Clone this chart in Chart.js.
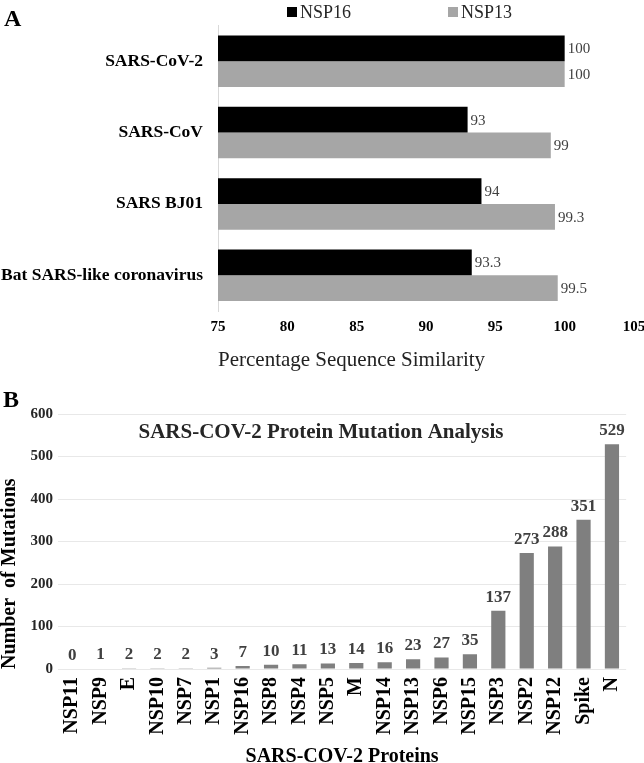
<!DOCTYPE html>
<html><head><meta charset="utf-8">
<script src="https://cdn.jsdelivr.net/npm/chart.js@4.4.1/dist/chart.umd.min.js"></script>
<style>
html,body{margin:0;padding:0;background:#fff;overflow:hidden;width:644px;height:763px;}
#a{position:absolute;left:0;top:0;}
#b{position:absolute;left:0;top:372px;}
</style></head><body>
<canvas id="a" width="644" height="375"></canvas>
<canvas id="b" width="644" height="398"></canvas>
<script>
// ---- Panel A data ----
const speciesLabels = ['SARS-CoV-2', 'SARS-CoV', 'SARS BJ01', 'Bat SARS-like coronavirus'];
const nsp16 = [100, 93, 94, 93.3];
const nsp13 = [100, 99, 99.3, 99.5];
const similarityMin = 75, similarityMax = 105, similarityStep = 5;

// ---- Panel B data ----
const proteins = ['NSP11','NSP9','E','NSP10','NSP7','NSP1','NSP16','NSP8','NSP4','NSP5','M','NSP14','NSP13','NSP6','NSP15','NSP3','NSP2','NSP12','Spike','N'];
const mutations = [0,1,2,2,2,3,7,10,11,13,14,16,23,27,35,137,273,288,351,529];
const mutationMin = 0, mutationMax = 600, mutationStep = 100;

const SERIF = '"Liberation Serif", "Times New Roman", Times, serif';

const valueLabelsA = {
  id: 'valueLabelsA',
  afterDatasetsDraw(chart) {
    const ctx = chart.ctx;
    ctx.save();
    ctx.font = '15px ' + SERIF;
    ctx.fillStyle = '#404040';
    ctx.textAlign = 'left';
    ctx.textBaseline = 'middle';
    chart.data.datasets.forEach((ds, i) => {
      chart.getDatasetMeta(i).data.forEach((el, j) => {
        ctx.fillText(String(ds.data[j]), el.x + 3, el.y + 1);
      });
    });
    ctx.restore();
  }
};

const legendA = {
  id: 'legendA',
  afterDraw(chart) {
    const ctx = chart.ctx;
    ctx.save();
    ctx.font = '18px ' + SERIF;
    ctx.textBaseline = 'middle';
    ctx.textAlign = 'left';
    const xs = [287, 448];
    chart.data.datasets.forEach((ds, i) => {
      ctx.fillStyle = ds.backgroundColor;
      ctx.fillRect(xs[i], 7, 10, 10);
      ctx.fillStyle = '#262626';
      ctx.fillText(ds.label, xs[i] + 13, 13);
    });
    ctx.font = 'bold 24px ' + SERIF;
    ctx.fillStyle = '#000';
    ctx.fillText('A', 4, 20);
    ctx.restore();
  }
};

const valueLabelsB = {
  id: 'valueLabelsB',
  afterDatasetsDraw(chart) {
    const ctx = chart.ctx;
    ctx.save();
    ctx.font = 'bold 17px ' + SERIF;
    ctx.fillStyle = '#404040';
    ctx.textAlign = 'center';
    ctx.textBaseline = 'bottom';
    chart.data.datasets.forEach((ds, i) => {
      chart.getDatasetMeta(i).data.forEach((el, j) => {
        ctx.fillText(String(ds.data[j]), el.x, el.y - 5);
      });
    });
    ctx.font = 'bold 24px ' + SERIF;
    ctx.fillStyle = '#000';
    ctx.textAlign = 'left';
    ctx.textBaseline = 'middle';
    ctx.fillText('B', 3, 29);
    ctx.restore();
  }
};

new Chart(document.getElementById('a'), {
  type: 'bar',
  data: {
    labels: speciesLabels,
    datasets: [
      { label: 'NSP16', data: nsp16, backgroundColor: '#000000', categoryPercentage: 0.72, barPercentage: 1 },
      { label: 'NSP13', data: nsp13, backgroundColor: '#a6a6a6', categoryPercentage: 0.72, barPercentage: 1 }
    ]
  },
  options: {
    indexAxis: 'y',
    responsive: false,
    animation: false,
    devicePixelRatio: 1,
    layout: { padding: { top: 24, right: 10, left: 0, bottom: 0 } },
    plugins: { legend: { display: false }, tooltip: { enabled: false } },
    scales: {
      x: {
        min: similarityMin, max: similarityMax,
        ticks: { stepSize: similarityStep, font: { family: SERIF, size: 15, weight: 'bold' }, color: '#000', padding: 7 },
        grid: { display: false, drawTicks: false },
        border: { display: false },
        title: { display: true, text: 'Percentage Sequence Similarity', align: 'start',
                 font: { family: SERIF, size: 21 }, color: '#222', padding: { top: 0, bottom: 2 } },
        afterFit(s) { s.height = 64; s.paddingRight = 0; s.paddingLeft = 0; }
      },
      y: {
        ticks: { font: { family: SERIF, size: 17.5, weight: 'bold' }, color: '#000', padding: 15 },
        grid: { display: false, drawTicks: false },
        border: { display: true, color: '#d9d9d9' },
        afterFit(s) { s.width = 218; }
      }
    }
  },
  plugins: [valueLabelsA, legendA]
});

new Chart(document.getElementById('b'), {
  type: 'bar',
  data: {
    labels: proteins,
    datasets: [{ label: 'Number of Mutations', data: mutations, backgroundColor: '#7f7f7f', categoryPercentage: 1, barPercentage: 0.5 }]
  },
  options: {
    responsive: false,
    animation: false,
    devicePixelRatio: 1,
    layout: { padding: { top: 0, right: 2, left: 0, bottom: 0 } },
    plugins: {
      legend: { display: false }, tooltip: { enabled: false },
      title: { display: true, text: 'SARS-COV-2 Protein Mutation Analysis',
               font: { family: SERIF, size: 21, weight: 'bold' }, color: '#262626',
               padding: { top: 48.4, bottom: -31.6 } }
    },
    scales: {
      x: {
        ticks: { font: { family: SERIF, size: 20, weight: 'bold' }, color: '#000', minRotation: 90, maxRotation: 90, autoSkip: false, padding: 8 },
        grid: { display: false, drawTicks: false },
        border: { display: false },
        title: { display: true, text: 'SARS-COV-2 Proteins', font: { family: SERIF, size: 20, weight: 'bold' }, color: '#000', padding: { top: 0, bottom: 1 } },
        afterFit(s) { s.height = 101; }
      },
      y: {
        min: mutationMin, max: mutationMax,
        ticks: { stepSize: mutationStep, font: { family: SERIF, size: 15, weight: 'bold' }, color: '#262626', padding: 5 },
        grid: { color: '#e8e8e8', drawTicks: false },
        border: { display: false },
        title: { display: true, text: 'Number  of Mutations', align: 'start',
                 font: { family: SERIF, size: 20, weight: 'bold', lineHeight: 1 }, color: '#000', padding: 0 },
        afterFit(s) { s.width = 58; }
      }
    }
  },
  plugins: [valueLabelsB]
});
</script>
</body></html>
